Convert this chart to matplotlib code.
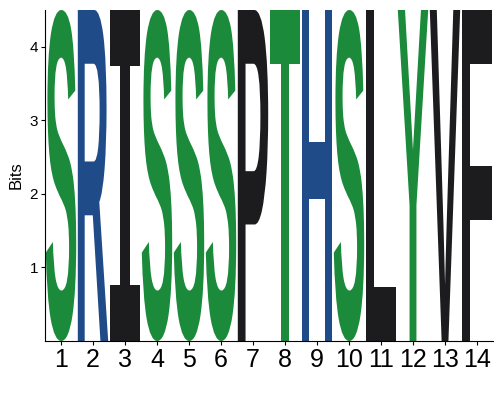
import matplotlib
matplotlib.use("Agg")
import matplotlib.pyplot as plt
from matplotlib.textpath import TextPath
from matplotlib.patches import PathPatch
from matplotlib.font_manager import FontProperties
from matplotlib.transforms import Affine2D

# Motif data: one dominant residue per position
positions = list(range(1, 15))
letters = ['S', 'R', 'I', 'S', 'S', 'S', 'P', 'T', 'H', 'S', 'L', 'Y', 'V', 'F']
bits = [4.5] * 14
y_ticks = [1, 2, 3, 4]

# chemistry colour scheme
colors = {'S': '#1B8A3A', 'T': '#1B8A3A', 'Y': '#1B8A3A', 'G': '#1B8A3A', 'C': '#1B8A3A',
          'R': '#1F4B88', 'H': '#1F4B88', 'K': '#1F4B88',
          'I': '#1C1B1D', 'P': '#1C1B1D', 'L': '#1C1B1D', 'V': '#1C1B1D', 'F': '#1C1B1D'}

font = FontProperties(family='Liberation Sans', weight='bold')
# the logo's I has bars top and bottom, so take it from a mono font
font_i = FontProperties(family='Liberation Mono', weight='bold')


def draw_letter(ax, letter, x, height, width=0.95):
    prop = font_i if letter == 'I' else font
    path = TextPath((0, 0), letter, size=1, prop=prop)
    ext = path.get_extents()
    tr = (Affine2D()
          .translate(-ext.x0, -ext.y0)
          .scale(width / ext.width, height / ext.height)
          .translate(x - width / 2, 0))
    patch = PathPatch(tr.transform_path(path), facecolor=colors[letter],
                      edgecolor='none', zorder=2)
    ax.add_patch(patch)


fig = plt.figure(figsize=(5, 4), dpi=100)
ax = fig.add_axes([0.09, 0.1475, 0.896, 0.8275])

for pos, let, h in zip(positions, letters, bits):
    draw_letter(ax, let, pos, h)

ax.set_xlim(0.5, 14.5)
ax.set_ylim(0, 4.5)

ax.set_xticks(positions)
ax.set_xticklabels([str(p) for p in positions], fontsize=18, family='Liberation Sans')
ax.set_yticks(y_ticks)
ax.set_yticklabels([str(t) for t in y_ticks], fontsize=11, family='Liberation Sans')
ax.set_ylabel('Bits', fontsize=12, family='Liberation Sans', labelpad=4)

ax.spines[['top', 'right']].set_visible(False)
ax.tick_params(axis='both', length=3, width=0.8, pad=2)

fig.savefig('out.png', dpi=100, facecolor='white')
